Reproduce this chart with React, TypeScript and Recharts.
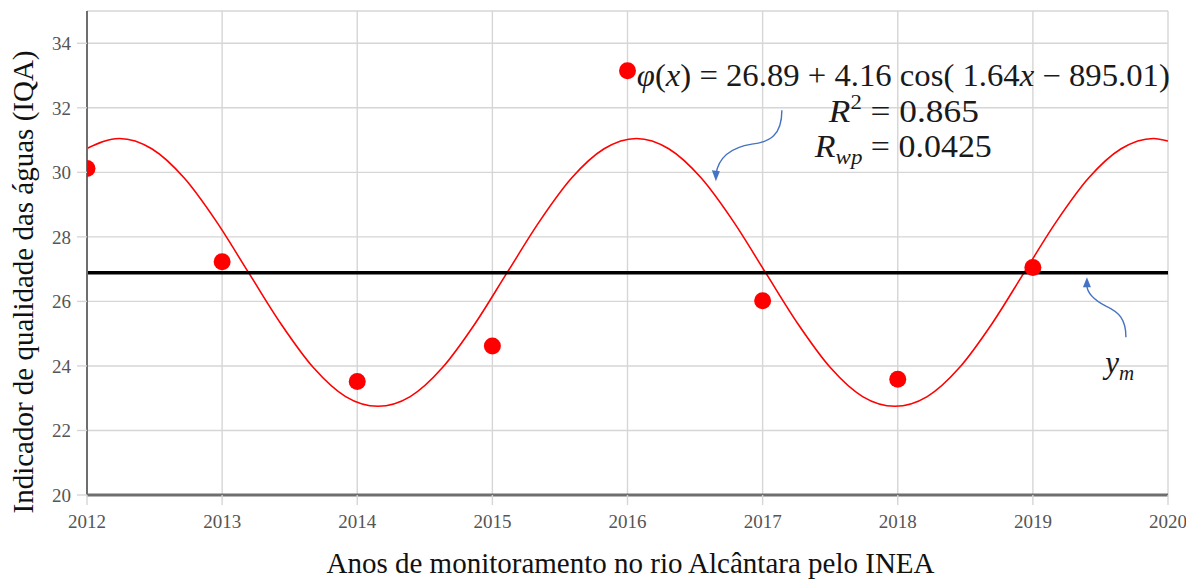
import React from 'react';
import {
  ComposedChart,
  Line,
  Scatter,
  XAxis,
  YAxis,
  CartesianGrid,
  ReferenceLine,
  ReferenceDot,
  Label,
} from 'recharts';

// Observed IQA values per monitoring year
const obsYears = [2012, 2013, 2014, 2015, 2016, 2017, 2018, 2019];
const obsIqa = [30.12, 27.23, 23.52, 24.62, 33.15, 26.02, 23.59, 27.05];

// Fitted cosine curve
const fitYears = [
  2012.0, 2012.24, 2012.479, 2012.718, 2012.957, 2013.196, 2013.436, 2013.675, 2013.914,
  2014.153, 2014.392, 2014.631, 2014.87, 2015.109, 2015.349, 2015.588, 2015.827, 2016.066,
  2016.305, 2016.544, 2016.783, 2017.022, 2017.262, 2017.501, 2017.74, 2017.979, 2018.218,
  2018.457, 2018.696, 2018.935, 2019.175, 2019.414, 2019.653, 2019.892, 2020.0,
];
const fitIqa = [
  30.74, 31.05, 30.73, 29.83, 28.48, 26.89, 25.3, 23.95, 23.05,
  22.75, 23.05, 23.95, 25.3, 26.89, 28.48, 29.83, 30.73, 31.05,
  30.73, 29.83, 28.48, 26.89, 25.3, 23.95, 23.05, 22.75, 23.05,
  23.95, 25.3, 26.89, 28.48, 29.83, 30.73, 31.05, 30.97,
];

const meanIqa = 26.89;
const xTicks = [2012, 2013, 2014, 2015, 2016, 2017, 2018, 2019, 2020];
const yTicks = [20, 22, 24, 26, 28, 30, 32, 34];

const xLabel = 'Anos de monitoramento no rio Alcântara pelo INEA';
const yLabel = 'Indicador de qualidade das águas (IQA)';

// annotation anchors (data coordinates)
const formulaAnchor = { x: 2016.069, y: 32.674 };
const arrowFitTip = { x: 2016.654, y: 29.82 };
const arrowMeanTip = { x: 2019.4, y: 26.69 };
const ymAnchor = { x: 2019.535, y: 23.78 };

const obsData = obsYears.map((x, i) => ({ x, v: obsIqa[i] }));
const fitData = fitYears.map((x, i) => ({ x, v: fitIqa[i] }));

const SERIF = 'Liberation Serif, DejaVu Serif, serif';
const BLUE = '#4472c4';

const RedDot = (p: any) => <circle cx={p.cx} cy={p.cy} r={8.5} fill="#ff0000" />;

const FormulaShape = (p: any) => {
  const { cx, cy } = p;
  return (
    <g style={{ fontFamily: SERIF }} fill="#1a1a1a">
      <text x={cx} y={cy} fontSize={31} textLength={533} lengthAdjust="spacingAndGlyphs">
        <tspan fontStyle="italic">φ</tspan>
        <tspan>(</tspan>
        <tspan fontStyle="italic">x</tspan>
        <tspan>{') = 26.89 + 4.16 cos( 1.64'}</tspan>
        <tspan fontStyle="italic">x</tspan>
        <tspan>{' − 895.01)'}</tspan>
      </text>
      <text x={cx + 192} y={cy + 36} fontSize={31} textLength={150} lengthAdjust="spacingAndGlyphs">
        <tspan fontStyle="italic">R</tspan>
        <tspan fontSize={20} dy={-13}>2</tspan>
        <tspan dy={13}>{' = 0.865'}</tspan>
      </text>
      <text x={cx + 178} y={cy + 71} fontSize={31} textLength={177} lengthAdjust="spacingAndGlyphs">
        <tspan fontStyle="italic">R</tspan>
        <tspan fontStyle="italic" fontSize={21} dy={7}>wp</tspan>
        <tspan dy={-7}>{' = 0.0425'}</tspan>
      </text>
    </g>
  );
};

const ArrowFit = (p: any) => {
  const { cx, cy } = p;
  return (
    <g transform={`translate(${cx},${cy})`}>
      <path
        d="M 66 -68 C 66 -43, 54 -36, 36 -34 C 17 -31, 3 -22, 0 -4"
        fill="none"
        stroke={BLUE}
        strokeWidth={1.4}
      />
      <polygon points="0,3 -4,-8 4,-7" fill={BLUE} />
    </g>
  );
};

const ArrowMean = (p: any) => {
  const { cx, cy } = p;
  return (
    <g transform={`translate(${cx},${cy})`}>
      <path
        d="M 39 58 C 39 40, 32 33, 19 27 C 6 20, 0 13, 0 6"
        fill="none"
        stroke={BLUE}
        strokeWidth={1.4}
      />
      <polygon points="0,-2 -4,8 4,8" fill={BLUE} />
    </g>
  );
};

const YmShape = (p: any) => {
  const { cx, cy } = p;
  return (
    <text x={cx} y={cy} style={{ fontFamily: SERIF }} fontSize={31} fill="#1a1a1a" fontStyle="italic">
      <tspan>y</tspan>
      <tspan fontSize={21} dy={7}>m</tspan>
    </text>
  );
};

const XAxisLabel = (p: any) => {
  const vb = p.viewBox || {};
  return (
    <text
      x={vb.x + vb.width / 2 + 3}
      y={vb.y + 78}
      textAnchor="middle"
      style={{ fontFamily: SERIF }}
      fontSize={29}
      fill="#111"
    >
      {xLabel}
    </text>
  );
};

const YAxisLabel = (p: any) => {
  const vb = p.viewBox || {};
  const x = vb.x + 6;
  const y = vb.y + vb.height / 2 + 29;
  return (
    <text
      x={x}
      y={y}
      transform={`rotate(-90, ${x}, ${y})`}
      textAnchor="middle"
      style={{ fontFamily: SERIF }}
      fontSize={29}
      fill="#111"
    >
      {yLabel}
    </text>
  );
};

const tickStyle = { fontFamily: SERIF, fontSize: 19, fill: '#555' };

export default function App() {
  return (
    <div style={{ fontFamily: SERIF }}>
      <ComposedChart
        width={1180}
        height={572}
        margin={{ top: 3, right: 20, bottom: 55, left: 19 }}
        style={{ fontFamily: SERIF }}
      >
        <CartesianGrid stroke="#d6d6d6" strokeWidth={1.4} />
        <XAxis
          dataKey="x"
          type="number"
          domain={[2012, 2020]}
          ticks={xTicks}
          allowDataOverflow
          height={30}
          tickSize={10}
          tickMargin={10}
          tickLine={{ stroke: '#d6d6d6', strokeWidth: 1.4 }}
          axisLine={{ stroke: '#6e6e6e', strokeWidth: 3 }}
          tick={tickStyle}
        >
          <Label content={XAxisLabel} />
        </XAxis>
        <YAxis
          type="number"
          domain={[20, 35]}
          ticks={yTicks}
          allowDataOverflow
          width={60}
          tickSize={10}
          tickMargin={6}
          tickLine={{ stroke: '#d6d6d6', strokeWidth: 1.4 }}
          axisLine={{ stroke: '#6e6e6e', strokeWidth: 2 }}
          tick={tickStyle}
        >
          <Label content={YAxisLabel} />
        </YAxis>
        <Line
          data={fitData}
          dataKey="v"
          type="monotone"
          stroke="#ff0000"
          strokeWidth={1.6}
          dot={false}
          activeDot={false}
          isAnimationActive={false}
        />
        <ReferenceLine y={meanIqa} stroke="#000" strokeWidth={3.5} />
        <Scatter data={obsData} dataKey="v" shape={RedDot} isAnimationActive={false} />
        <ReferenceDot x={formulaAnchor.x} y={formulaAnchor.y} shape={FormulaShape} />
        <ReferenceDot x={arrowFitTip.x} y={arrowFitTip.y} shape={ArrowFit} />
        <ReferenceDot x={arrowMeanTip.x} y={arrowMeanTip.y} shape={ArrowMean} />
        <ReferenceDot x={ymAnchor.x} y={ymAnchor.y} shape={YmShape} />
      </ComposedChart>
    </div>
  );
}
